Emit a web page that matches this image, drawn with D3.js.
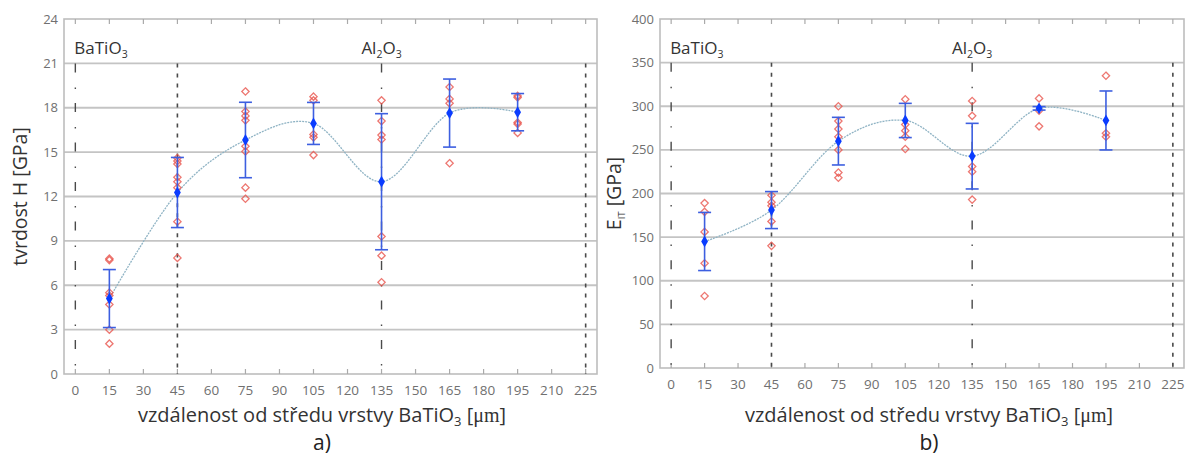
<!DOCTYPE html>
<html><head><meta charset="utf-8">
<script src="https://cdn.jsdelivr.net/npm/d3@7"></script>
<style>
body{margin:0;background:#fff;}
svg{display:block;}
text{font-family:"Open Sans","Noto Sans",sans-serif;}
</style></head>
<body>
<svg id="chart" width="1186" height="459"></svg>
<script>
// ---------- data ----------
const positions = [15, 45, 75, 105, 135, 165, 195];
const xTickValues = [0, 15, 30, 45, 60, 75, 90, 105, 120, 135, 150, 165, 180, 195, 210, 225];
const boundaryX = [0, 45, 135, 225];
const boundaryKind = ["dashdot", "dash", "dashdot", "dash"];

// (a) hardness H [GPa]
const hardTicks = [0, 3, 6, 9, 12, 15, 18, 21, 24];
const hardMean = [5.1, 12.27, 15.82, 16.94, 13.0, 17.64, 17.7];
const hardErr = [1.96, 2.37, 2.55, 1.42, 4.6, 2.3, 1.26];
const hardPoints = [
  [7.8, 7.7, 5.5, 5.3, 4.7, 3.0, 2.05],
  [14.6, 14.4, 14.2, 13.3, 13.0, 12.6, 10.3, 7.85],
  [19.1, 17.75, 17.45, 17.15, 15.4, 15.05, 12.6, 11.85],
  [18.75, 18.5, 16.2, 16.0, 14.8],
  [18.5, 17.1, 16.15, 15.85, 9.3, 8.0, 6.2],
  [19.4, 18.6, 18.3, 14.25],
  [18.8, 18.7, 17.0, 16.9, 16.3]
];

// (b) indentation modulus E_IT [GPa]
const modTicks = [0, 50, 100, 150, 200, 250, 300, 350, 400];
const modMean = [145, 181, 260, 283.7, 242.8, 297.6, 283.7];
const modErr = [33.3, 21.2, 27.3, 19.6, 37.6, 2, 33.8];
const modPoints = [
  [189, 179, 156, 120, 82.5],
  [198, 190, 186, 168, 140],
  [300, 283, 274, 265, 250, 224, 218],
  [308, 279, 272, 265, 251],
  [306, 289, 231, 225, 193],
  [309, 295, 277],
  [335, 269, 265]
];

// ---------- layout ----------
const panels = [
  {left: 64, right: 597, top: 19, bottom: 374, ticks: hardTicks, mean: hardMean, err: hardErr, pts: hardPoints,
   ylab: [{t: "tvrdost H [GPa]"}], ylabX: 27, tag: "a)", titleX: 322},
  {left: 660, right: 1184, top: 19, bottom: 368, ticks: modTicks, mean: modMean, err: modErr, pts: modPoints,
   ylab: [{t: "E"}, {t: "IT", sub: true}, {t: " [GPa]"}], ylabX: 621, tag: "b)", titleX: 929}
];

const svg = d3.select("#chart");
const gridColor = "#c4c4c4";
const diamond = d3.symbol().type(d3.symbolDiamond2);

panels.forEach(p => {
  const x = d3.scaleLinear().domain([-5, 230]).range([p.left, p.right]);
  const y = d3.scaleLinear().domain([0, p.ticks[p.ticks.length - 1]]).range([p.bottom, p.top]);
  const g = svg.append("g");

  // horizontal gridlines
  g.selectAll(".grid").data(p.ticks.slice(1, -1)).join("line")
    .attr("x1", p.left).attr("x2", p.right)
    .attr("y1", d => y(d)).attr("y2", d => y(d))
    .attr("stroke", gridColor).attr("stroke-width", 1.8);

  // frame
  g.append("rect").attr("x", p.left).attr("y", p.top)
    .attr("width", p.right - p.left).attr("height", p.bottom - p.top)
    .attr("fill", "none").attr("stroke", "#bdbdbd").attr("stroke-width", 1.6);

  // inner ticks top & bottom
  g.selectAll(".tb").data(xTickValues).join("line")
    .attr("x1", d => x(d)).attr("x2", d => x(d))
    .attr("y1", p.bottom).attr("y2", p.bottom - 5)
    .attr("stroke", "#aaa").attr("stroke-width", 1.2);
  g.selectAll(".tt").data(xTickValues).join("line")
    .attr("x1", d => x(d)).attr("x2", d => x(d))
    .attr("y1", p.top).attr("y2", p.top + 5)
    .attr("stroke", "#aaa").attr("stroke-width", 1.2);

  // x tick labels
  g.selectAll(".xl").data(xTickValues).join("text")
    .attr("x", d => x(d)).attr("y", p.bottom + 21)
    .attr("text-anchor", "middle").attr("font-size", 13.5).attr("fill", "#707070")
    .text(d => d);
  // y tick labels
  g.selectAll(".yl").data(p.ticks).join("text")
    .attr("x", p.left - 6).attr("y", d => y(d) + 4.5)
    .attr("text-anchor", "end").attr("font-size", 13).attr("fill", "#707070")
    .text(d => d);

  // layer boundary lines
  const yTopLine = y(p.ticks[p.ticks.length - 2]);
  g.selectAll(".bd").data(boundaryX).join("line")
    .attr("x1", d => x(d)).attr("x2", d => x(d))
    .attr("y1", yTopLine).attr("y2", p.bottom)
    .attr("stroke", "#4a4a4a")
    .attr("stroke-width", (d, i) => boundaryKind[i] === "dash" ? 1.6 : 1.4)
    .attr("stroke-dasharray", (d, i) => boundaryKind[i] === "dash" ? "4,6" : "9,15,1.5,14");

  // layer labels
  const lab1 = g.append("text").attr("x", x(0) - 1).attr("y", p.top + 35)
    .attr("font-size", 17).attr("fill", "#333");
  lab1.append("tspan").text("BaTiO");
  lab1.append("tspan").attr("font-size", 10.5).attr("dy", 4).text("3");
  const lab2 = g.append("text").attr("x", x(135)).attr("y", p.top + 35)
    .attr("font-size", 17).attr("fill", "#333").attr("text-anchor", "middle");
  lab2.append("tspan").text("Al");
  lab2.append("tspan").attr("font-size", 10.5).attr("dy", 4).text("2");
  lab2.append("tspan").attr("dy", -4).text("O");
  lab2.append("tspan").attr("font-size", 10.5).attr("dy", 4).text("3");

  // smooth curve through means
  const line = d3.line().x((d, i) => x(positions[i])).y(d => y(d)).curve(d3.curveCardinal.tension(0));
  g.append("path").attr("d", line(p.mean)).attr("fill", "none")
    .attr("stroke", "#8fb3c4").attr("stroke-width", 1.3).attr("stroke-dasharray", "2,1");

  // individual measurements
  p.pts.forEach((arr, i) => {
    g.selectAll(null).data(arr).join("path")
      .attr("d", diamond.size(34))
      .attr("transform", d => `translate(${x(positions[i])},${y(d)})`)
      .attr("fill", "none").attr("stroke", "#e8554e").attr("stroke-width", 1.3).attr("opacity", 0.8);
  });

  // error bars
  const eb = g.selectAll(".eb").data(p.mean).join("g");
  eb.append("line")
    .attr("x1", (d, i) => x(positions[i])).attr("x2", (d, i) => x(positions[i]))
    .attr("y1", (d, i) => y(d + p.err[i])).attr("y2", (d, i) => y(d - p.err[i]))
    .attr("stroke", "#3d5fe0").attr("stroke-width", 1.6);
  [1, -1].forEach(s => {
    eb.append("line")
      .attr("x1", (d, i) => x(positions[i]) - 6.5).attr("x2", (d, i) => x(positions[i]) + 6.5)
      .attr("y1", (d, i) => y(d + s * p.err[i])).attr("y2", (d, i) => y(d + s * p.err[i]))
      .attr("stroke", "#3d5fe0").attr("stroke-width", 1.6);
  });
  // means
  g.selectAll(".mn").data(p.mean).join("path")
    .attr("d", d3.symbol().type(d3.symbolDiamond).size(40))
    .attr("transform", (d, i) => `translate(${x(positions[i])},${y(d)})`)
    .attr("fill", "#0a3cff");

  // x title
  const xt = svg.append("text").attr("x", p.titleX).attr("y", 422)
    .attr("text-anchor", "middle").attr("font-size", 20).attr("fill", "#333");
  xt.append("tspan").text("vzdálenost od středu vrstvy BaTiO");
  xt.append("tspan").attr("font-size", 13).attr("dy", 4).text("3");
  xt.append("tspan").attr("dy", -4).text(" [");
  xt.append("tspan").attr("font-family", "Liberation Serif, serif").text("μm");
  xt.append("tspan").text("]");

  // tag
  svg.append("text").attr("x", p.titleX).attr("y", 450).attr("text-anchor", "middle")
    .attr("font-size", 21).attr("fill", "#222").text(p.tag);

  // y title
  const cy = (p.top + p.bottom) / 2;
  const yt = svg.append("text").attr("transform", `translate(${p.ylabX},${cy}) rotate(-90)`)
    .attr("text-anchor", "middle").attr("font-size", 19.5).attr("fill", "#333");
  p.ylab.forEach(s => {
    const ts = yt.append("tspan").text(s.t);
    if (s.sub) ts.attr("font-size", 9.5).attr("dy", 4);
    else if (yt.selectAll("tspan").size() > 1) ts.attr("dy", -4);
  });
});
</script>
</body></html>
